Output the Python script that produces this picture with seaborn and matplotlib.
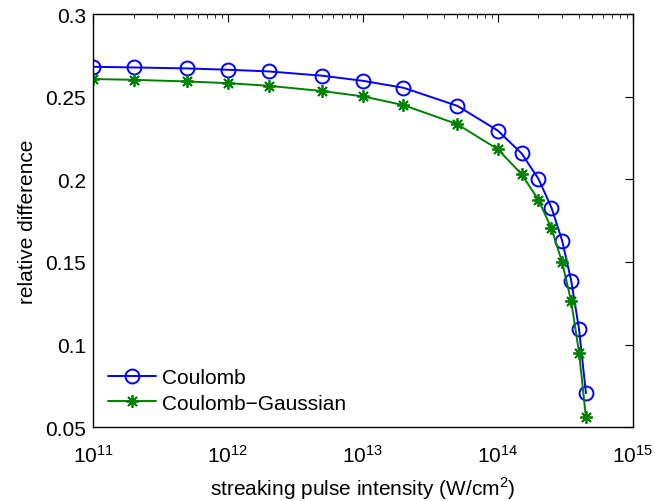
import matplotlib
matplotlib.use("Agg")
import matplotlib.pyplot as plt
import seaborn as sns
import numpy as np
from matplotlib.ticker import FixedLocator, FixedFormatter, LogLocator, NullFormatter

intensity = [1e11, 2e11, 5e11, 1e12, 2e12, 5e12, 1e13, 2e13, 5e13,
             1e14, 1.5e14, 2e14, 2.5e14, 3e14, 3.5e14, 4e14, 4.5e14]
coulomb = [0.2681, 0.2677, 0.2671, 0.2663, 0.2653, 0.2627, 0.2596, 0.2554, 0.2445,
           0.2295, 0.2157, 0.2003, 0.1828, 0.1628, 0.1386, 0.1093, 0.0706]
coulomb_gauss = [0.2607, 0.2602, 0.2592, 0.2582, 0.2566, 0.2534, 0.2502, 0.2449, 0.2334,
                 0.2182, 0.2031, 0.1876, 0.1703, 0.1497, 0.1261, 0.0952, 0.0559]
yticks = [0.05, 0.1, 0.15, 0.2, 0.25, 0.3]
ytick_labels = ["0.05", "0.1", "0.15", "0.2", "0.25", "0.3"]

sns.set_style("white")
plt.rcParams['font.family'] = ['Liberation Sans', 'DejaVu Sans']
plt.rcParams['mathtext.fontset'] = 'custom'
plt.rcParams['mathtext.rm'] = 'Liberation Sans'
plt.rcParams['text.color'] = 'black'
plt.rcParams['axes.labelcolor'] = 'black'

fig = plt.figure(figsize=(6.55, 5.02), dpi=100)
ax = fig.add_axes([0.142, 0.147, 0.824, 0.823])
ax.set_xscale('log')

sns.lineplot(x=intensity, y=coulomb, ax=ax, color=(0, 0, 1), lw=1.4,
             marker='o', markersize=10, markerfacecolor='none',
             markeredgecolor=(0, 0, 1), markeredgewidth=1.4, label='Coulomb')
sns.lineplot(x=intensity, y=coulomb_gauss, ax=ax, color=(0, 0.5, 0), lw=1.4,
             marker=(8, 2, 0), markersize=9, markeredgecolor=(0, 0.5, 0),
             markeredgewidth=1.3, label='Coulomb\u2212Gaussian')

ax.set_xlim(1e11, 1e15)
ax.set_ylim(0.05, 0.3)
ax.yaxis.set_major_locator(FixedLocator(yticks))
ax.yaxis.set_major_formatter(FixedFormatter(ytick_labels))
ax.xaxis.set_major_locator(LogLocator(base=10, numticks=10))
ax.xaxis.set_minor_locator(LogLocator(base=10, subs=np.arange(2, 10), numticks=20))
ax.xaxis.set_minor_formatter(NullFormatter())

for s in ax.spines.values():
    s.set_color('black')
    s.set_linewidth(1.0)
ax.tick_params(which='both', direction='in', top=True, right=True, colors='black',
               labelcolor='black', labelsize=15)
ax.tick_params(which='major', length=6, width=0.8)
ax.tick_params(which='minor', length=3, width=0.6)
ax.tick_params(axis='x', pad=12)
ax.tick_params(axis='y', pad=5)

ax.set_xlabel('streaking pulse intensity (W/cm$^2$)', fontsize=15, labelpad=6,
              color='black')
ax.set_ylabel('relative difference', fontsize=15, labelpad=6, color='black')

leg = ax.legend(loc='lower left', frameon=False, fontsize=15, handlelength=2.3,
                handletextpad=0.3, borderaxespad=0.3, labelspacing=0.3)
for t in leg.get_texts():
    t.set_color('black')

fig.savefig('out.png', dpi=100)
